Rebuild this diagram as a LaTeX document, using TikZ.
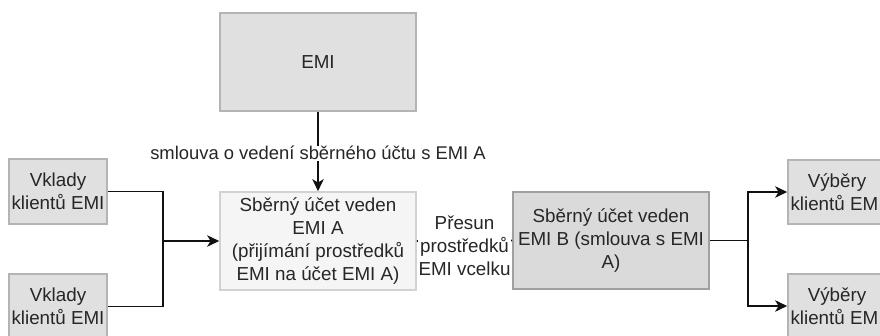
\documentclass[tikz,border=0pt]{standalone}
\usepackage{fontspec}
\setmainfont{Liberation Sans}
\usetikzlibrary{arrows.meta}
\definecolor{boxgray}{HTML}{E0E0E0}
\definecolor{boxline}{HTML}{B4B4B4}
\definecolor{boxlight}{HTML}{F5F5F5}
\definecolor{boxlightline}{HTML}{D2D2D2}
\definecolor{boxdark}{HTML}{DADADA}
\definecolor{boxdarkline}{HTML}{A0A0A0}
\definecolor{linecol}{HTML}{111111}
\tikzset{
  every node/.style={font=\fontsize{14.1}{17.3}\selectfont, text=black!85},
  graybox/.style={draw=boxline, fill=boxgray, line width=1.2pt, align=center, inner sep=0pt},
  lightbox/.style={draw=boxlightline, fill=boxlight, line width=1.2pt, align=center, inner sep=0pt},
  darkbox/.style={draw=boxdarkline, fill=boxdark, line width=1.2pt, align=center, inner sep=0pt},
  conn/.style={draw=linecol, line width=1.4pt},
  arr/.style={conn, -{Stealth[length=9pt, width=8.5pt, inset=2.5pt]}},
  lbl/.style={fill=white, inner sep=0.5pt, align=center},
}
\begin{document}
\begin{tikzpicture}[x=0.75pt, y=-0.75pt]
\useasboundingbox (0,0) rectangle (880,335);
\clip (0,0) rectangle (880,335);
\fill[white] (0,0) rectangle (880,335);
\node[graybox, minimum width=147pt, minimum height=73.5pt] (emi) at (318,62) {EMI};
\node[lightbox, minimum width=147pt, minimum height=73.5pt] (a) at (318,241)
  {Sběrný účet veden\\EMI A\\(přijímání prostředků\\EMI na účet EMI A)};
\node[darkbox, minimum width=147pt, minimum height=72.75pt] (b) at (611,240.5)
  {Sběrný účet veden\\EMI B (smlouva s EMI\\A)};
\node[graybox, minimum width=73.5pt, minimum height=48.75pt] (v1) at (58,191.5) {Vklady\\klientů EMI};
\node[graybox, minimum width=73.5pt, minimum height=48.75pt] (v2) at (58,306.5) {Vklady\\klientů EMI};
\node[graybox, minimum width=73.5pt, minimum height=48pt] (w1) at (837,192) {Výběry\\klientů EMI};
\node[graybox, minimum width=73.5pt, minimum height=48pt] (w2) at (837,306) {Výběry\\klientů EMI};
\coordinate (j1) at (163,241);
\coordinate (j2) at (748,240.5);
% EMI -> A
\draw[arr] (emi.south) -- (a.north)
  node[lbl, pos=0.52, font=\fontsize{13.8}{17}\selectfont] (l1) {smlouva o vedení sběrného účtu s EMI A};
% Vklady -> A
\draw[conn] (v1.east) -| (j1);
\draw[conn] (v2.east) -| (j1);
\draw[arr] (j1) -- (a.west);
% A -> B
\draw[conn] (a.east) -- (b.west)
  node[lbl, midway, yshift=-3.5pt] (l2) {Přesun\\prostředků\\EMI vcelku};
% B -> Vyber
\draw[conn] (b.east) -- (j2);
\draw[arr] (j2) |- (w1.west);
\draw[arr] (j2) |- (w2.west);
\end{tikzpicture}
\end{document}
